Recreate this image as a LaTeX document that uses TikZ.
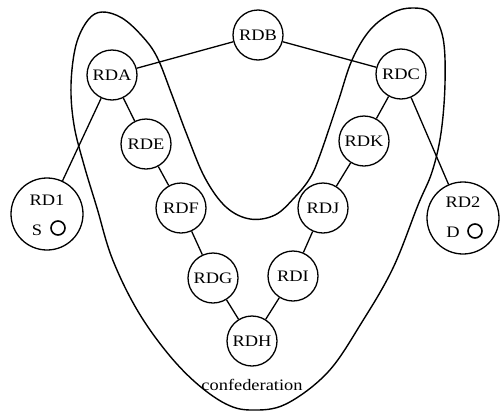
\documentclass[tikz,border=0pt]{standalone}
\usepackage{fontspec}
\setmainfont{Liberation Serif}[FakeStretch=1.15]
\begin{document}
\begin{tikzpicture}[x=1pt,y=-1pt,line width=1.3pt,
  rd/.style={circle,draw,minimum size=50pt,inner sep=0pt,font=\fontsize{16}{19}\selectfont},
  host/.style={circle,draw,minimum size=72pt,inner sep=0pt},
  lbl/.style={inner sep=0pt,font=\fontsize{16}{19}\selectfont},
  port/.style={circle,draw,minimum size=14pt,inner sep=0pt,line width=1.6pt},
  link/.style={line width=1.3pt}]
\useasboundingbox (0,0) rectangle (502,410);

% confederation boundary
\draw[line width=1.4pt] plot[smooth cycle,tension=0.6] coordinates {
  (252,410) (226,404) (195,382) (165,350) (136,308) (112,258) (97,208)
  (84,165) (74,125) (71,85) (76,45) (88,20) (102,12) (122,18) (142,36)
  (157,57) (172,95) (187,135) (205,178) (226,207) (250,219) (275,215)
  (295,197) (310,178) (320,155) (338,102) (352,60) (370,30) (392,13)
  (412,8) (431,13) (443,38) (445,83) (441,133) (432,172) (418,205)
  (393,268) (362,322) (328,372) (286,404)};
\node[lbl] (conf) at (252,385) {confederation};

% routing domains
\node[rd] (rda) at (112,75) {RDA};
\node[rd] (rdb) at (258,35) {RDB};
\node[rd] (rdc) at (401,74) {RDC};
\node[rd] (rde) at (146,144) {RDE};
\node[rd] (rdf) at (181,208) {RDF};
\node[rd] (rdg) at (213,278) {RDG};
\node[rd] (rdh) at (252,341) {RDH};
\node[rd] (rdi) at (293,276) {RDI};
\node[rd] (rdj) at (323,208) {RDJ};
\node[rd] (rdk) at (364,141) {RDK};

% end domains with source and destination
\node[host] (rd1) at (47,214) {};
\node[lbl] (rd1t) at (47,200) {RD1};
\node[lbl] (src) at (37,230) {S};
\node[port] (srcp) at (58,228) {};

\node[host] (rd2) at (463,218) {};
\node[lbl] (rd2t) at (463,202) {RD2};
\node[lbl] (dst) at (453,232) {D};
\node[port] (dstp) at (475,231) {};

% links
\draw[link] (rda) -- (rdb);
\draw[link] (rdb) -- (rdc);
\draw[link] (rda) -- (rde);
\draw[link] (rde) -- (rdf);
\draw[link] (rdf) -- (rdg);
\draw[link] (rdg) -- (rdh);
\draw[link] (rdh) -- (rdi);
\draw[link] (rdi) -- (rdj);
\draw[link] (rdj) -- (rdk);
\draw[link] (rdk) -- (rdc);
\draw[link] (rda) -- (rd1);
\draw[link] (rdc) -- (rd2);
\end{tikzpicture}
\end{document}
